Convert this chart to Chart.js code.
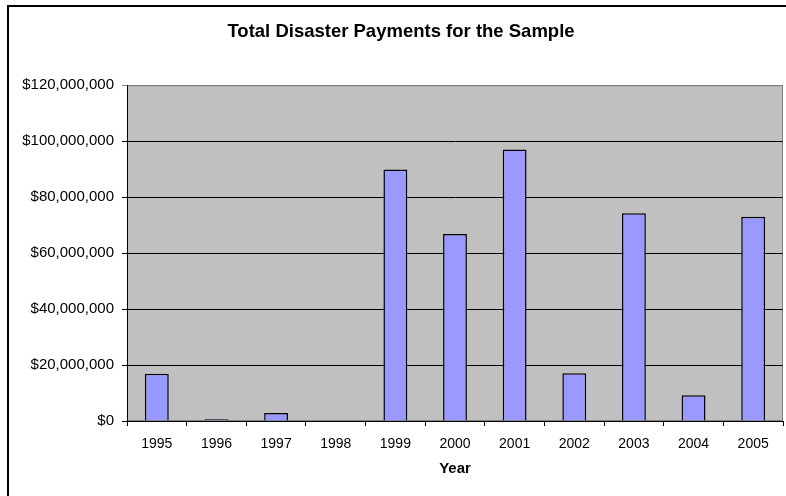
<!DOCTYPE html>
<html>
<head>
<meta charset="utf-8">
<script src="https://cdn.jsdelivr.net/npm/chart.js@4/dist/chart.umd.min.js"></script>
<style>
    html, body { margin: 0; padding: 0; background: #fff; overflow: hidden; }
    #wrap { position: relative; width: 786px; height: 496px; overflow: hidden; }
    #frame {
        position: absolute; left: 7px; top: 5px;
        width: 790px; height: 500px;
        border: 2px solid #000; pointer-events: none;
    }
</style>
</head>
<body>
<div id="wrap">
    <canvas id="chart" width="786" height="496"></canvas>
    <div id="frame"></div>
</div>
<script>
const years = ['1995', '1996', '1997', '1998', '1999', '2000', '2001', '2002', '2003', '2004', '2005'];
const payments = [16900000, 600000, 2900000, 0, 89900000, 66800000, 97000000, 17100000, 74200000, 9200000, 73000000];
const yTicks = [0, 20000000, 40000000, 60000000, 80000000, 100000000, 120000000];

const FONT = "'Liberation Sans', Arial, sans-serif";

// серый фон области построения с рамкой
const plotBg = {
    id: 'plotBg',
    beforeDraw(chart) {
        const { ctx, chartArea: a } = chart;
        ctx.save();
        ctx.fillStyle = '#c0c0c0';
        ctx.fillRect(a.left, a.top, a.right - a.left, a.bottom - a.top);
        ctx.strokeStyle = '#808080';
        ctx.lineWidth = 1;
        ctx.strokeRect(a.left + 0.5, a.top + 0.5, a.right - a.left - 1, a.bottom - a.top - 1);
        ctx.restore();
    }
};

new Chart(document.getElementById('chart'), {
    type: 'bar',
    data: {
        labels: years,
        datasets: [{
            data: payments,
            backgroundColor: '#9999ff',
            borderColor: '#000',
            borderWidth: 1.5,
            barPercentage: 0.4,
            categoryPercentage: 1
        }]
    },
    options: {
        responsive: false,
        animation: false,
        layout: { padding: { left: 19, right: 3, top: 0, bottom: 0 } },
        plugins: {
            legend: { display: false },
            tooltip: { enabled: false },
            title: {
                display: true,
                text: 'Total Disaster Payments for the Sample',
                color: '#000',
                font: { family: FONT, size: 18.5, weight: 'bold' },
                padding: { top: 21, bottom: 42 }
            }
        },
        scales: {
            x: {
                afterFit(s) { s.height = 75; },
                grid: { drawOnChartArea: false, color: '#000', tickLength: 5 },
                border: { color: '#000' },
                ticks: { color: '#000', padding: 10, font: { family: FONT, size: 14 } },
                title: {
                    display: true,
                    text: 'Year',
                    color: '#000',
                    font: { family: FONT, size: 15, weight: 'bold' },
                    padding: { top: 4, bottom: 18 }
                }
            },
            y: {
                min: 0,
                max: 120000000,
                afterFit(s) { s.width = 108; },
                afterBuildTicks(s) { s.ticks = yTicks.map(v => ({ value: v })); },
                grid: {
                    color: c => (c.tick && c.tick.value === 120000000 ? '#808080' : '#000'),
                    tickLength: 5
                },
                border: { color: '#000' },
                ticks: {
                    color: '#000',
                    padding: 8,
                    font: { family: FONT, size: 15 },
                    callback: v => '$' + Number(v).toLocaleString('en-US')
                }
            }
        }
    },
    plugins: [plotBg]
});
</script>
</body>
</html>
